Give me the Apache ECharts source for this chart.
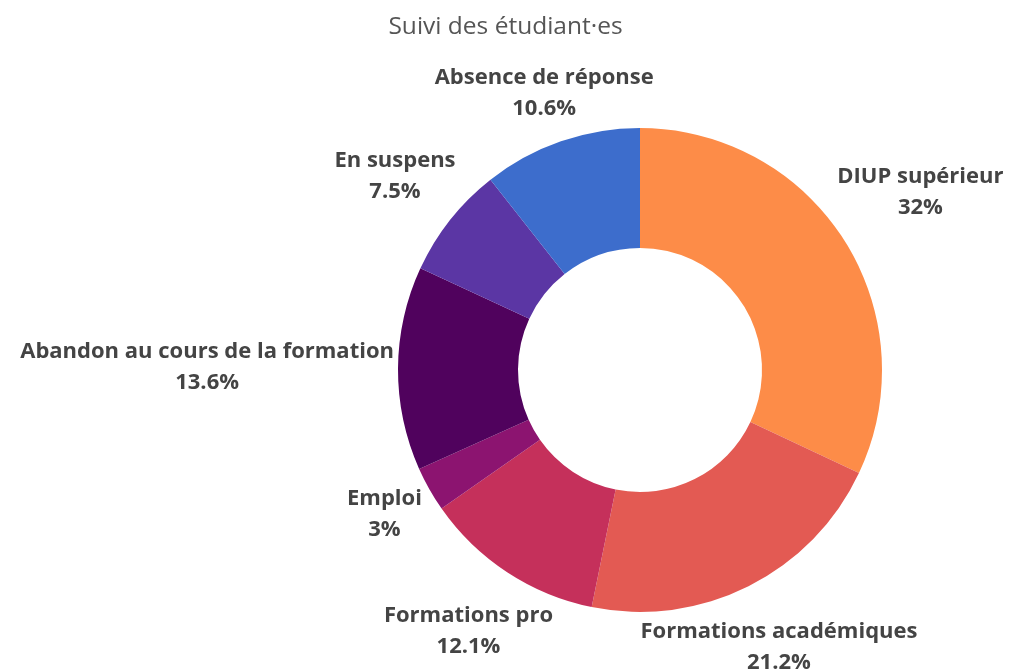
<!DOCTYPE html>
<html>
<head>
<meta charset="utf-8">
<script src="https://cdn.jsdelivr.net/npm/echarts@6/dist/echarts.min.js"></script>
<style>
html,body{margin:0;padding:0;background:#fff;}
#chart{width:1011px;height:669px;}
</style>
</head>
<body>
<div id="chart"></div>
<script>
var categories=['DIUP supérieur','Formations académiques','Formations pro','Emploi','Abandon au cours de la formation','En suspens','Absence de réponse'];
var values=[32,21.2,12.1,3,13.6,7.5,10.6];
var colors=['#fd8c48','#e35a53','#c5305b','#8c1470','#50025d','#5b36a4','#3d6dcc'];

var cx=640,cy=370,rOut=242,rIn=122,gap=4;

var data=[];
for(var i=0;i<categories.length;i++){
    data.push({name:categories[i],value:values[i],itemStyle:{color:colors[i]}});
}

// angle du milieu de chaque part (sens horaire depuis le haut)
var total=0;
values.forEach(function(v){total+=v;});
function midAngle(idx){
    var s=0;
    for(var k=0;k<idx;k++) s+=values[k];
    return (s+values[idx]/2)/total*Math.PI*2;
}

// place le texte sur le rayon médian, juste en dehors de l'anneau
function placeLabel(params){
    var a=midAngle(params.dataIndex);
    var ux=Math.sin(a),uy=-Math.cos(a);
    var hw=params.labelRect.width/2,hh=params.labelRect.height/2;
    var target=rOut+gap;
    var lo=0,hi=rOut+hw+hh+200;
    for(var n=0;n<60;n++){
        var d=(lo+hi)/2;
        var ex=Math.max(Math.abs(d*ux)-hw,0),ey=Math.max(Math.abs(d*uy)-hh,0);
        if(Math.sqrt(ex*ex+ey*ey)<target) lo=d; else hi=d;
    }
    return {x:cx+hi*ux,y:cy+hi*uy,align:'center',verticalAlign:'middle'};
}

var chart=echarts.init(document.getElementById('chart'));
chart.setOption({
    animation:false,
    title:{
        text:'Suivi des étudiant·es',
        left:'center',
        top:10,
        textStyle:{fontFamily:'Open Sans',fontSize:24.5,fontWeight:'normal',color:'#555'}
    },
    series:[{
        type:'pie',
        center:[cx,cy],
        radius:[rIn,rOut],
        startAngle:90,
        clockwise:true,
        data:data,
        label:{
            show:true,
            position:'outside',
            overflow:'none',
            formatter:function(p){return p.name+'\n'+p.value+'%';},
            fontFamily:'Open Sans',
            fontSize:22,
            fontWeight:'bold',
            color:'#444',
            lineHeight:31,
            align:'center'
        },
        labelLine:{show:false},
        labelLayout:placeLabel
    }]
});
</script>
</body>
</html>
